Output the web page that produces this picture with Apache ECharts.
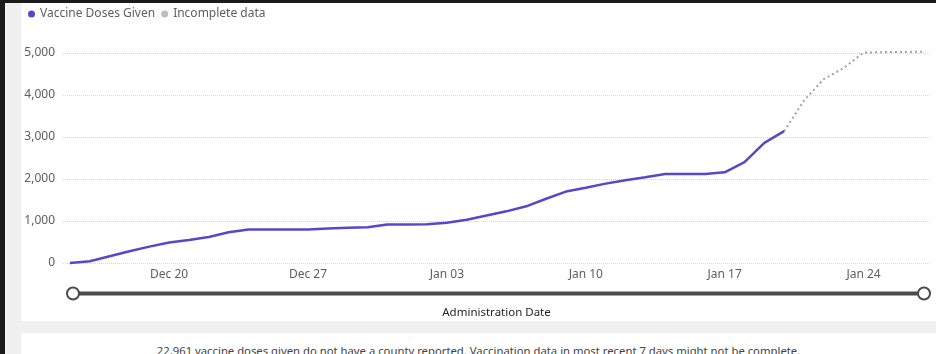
<!DOCTYPE html>
<html>
<head>
<meta charset="utf-8">
<script src="https://cdn.jsdelivr.net/npm/echarts@6/dist/echarts.min.js"></script>
<style>
  html, body { margin: 0; padding: 0; background: #1b1b1b; }
  #frame { position: absolute; left: 0; top: 0; width: 936px; height: 354px; overflow: hidden; background: #1b1b1b; }
  #side { position: absolute; left: 5px; top: 3px; width: 931px; height: 351px; background: #f0f0f0; }
  #card { position: absolute; left: 21px; top: 3px; width: 915px; height: 318px; background: #fff; }
  #note {
    position: absolute; left: 21px; top: 333px; width: 915px; height: 40px; background: #fff;
    font: 11.3px 'Segoe UI', 'Noto Sans', sans-serif; color: #444; text-align: center;
    line-height: 16px; padding-top: 10px; box-sizing: border-box;
  }
  #chart { position: absolute; left: 0; top: 0; width: 936px; height: 354px; }
</style>
</head>
<body>
<div id="frame">
  <div id="side"></div>
  <div id="card"></div>
  <div id="note">22,961 vaccine doses given do not have a county reported. Vaccination data in most recent 7 days might not be complete.</div>
  <div id="chart"></div>
</div>
<script>
// one entry per day, Dec 15 .. Jan 27
const dates = [
  'Dec 15', 'Dec 16', 'Dec 17', 'Dec 18', 'Dec 19', 'Dec 20', 'Dec 21', 'Dec 22', 'Dec 23',
  'Dec 24', 'Dec 25', 'Dec 26', 'Dec 27', 'Dec 28', 'Dec 29', 'Dec 30', 'Dec 31',
  'Jan 01', 'Jan 02', 'Jan 03', 'Jan 04', 'Jan 05', 'Jan 06', 'Jan 07', 'Jan 08', 'Jan 09',
  'Jan 10', 'Jan 11', 'Jan 12', 'Jan 13', 'Jan 14', 'Jan 15', 'Jan 16', 'Jan 17', 'Jan 18',
  'Jan 19', 'Jan 20', 'Jan 21', 'Jan 22', 'Jan 23', 'Jan 24', 'Jan 25', 'Jan 26', 'Jan 27'
];

// Dec 15 .. Jan 20
const dosesGiven = [
  0, 40, 160, 280, 390, 490, 550, 620, 730, 800, 800, 800, 800, 820, 840, 850, 915,
  915, 920, 960, 1030, 1130, 1230, 1350, 1530, 1700, 1790, 1890, 1970, 2040, 2120,
  2120, 2120, 2160, 2400, 2860, 3140
];

// Jan 20 .. Jan 27
const incompleteDates = ['Jan 20', 'Jan 21', 'Jan 22', 'Jan 23', 'Jan 24', 'Jan 25', 'Jan 26', 'Jan 27'];
const incompleteData = [3140, 3870, 4380, 4640, 5010, 5020, 5025, 5030];

const xTickLabels = ['Dec 20', 'Dec 27', 'Jan 03', 'Jan 10', 'Jan 17', 'Jan 24'];
const yTicks = [0, 1000, 2000, 3000, 4000, 5000];

const FONT = "'Segoe UI', 'Noto Sans', sans-serif";

// x is the day index into dates
const tickDays = xTickLabels.map((d) => dates.indexOf(d));
const givenPoints = dosesGiven.map((v, i) => [i, v]);
const incompletePoints = incompleteData.map((v, i) => [dates.indexOf(incompleteDates[i]), v]);

const chart = echarts.init(document.getElementById('chart'), null, { renderer: 'canvas' });

chart.setOption({
  animation: false,
  textStyle: { fontFamily: FONT },
  legend: {
    left: 28,
    top: 8,
    padding: 0,
    icon: 'circle',
    itemWidth: 7,
    itemHeight: 7,
    itemGap: 6,
    textStyle: { color: '#605e5c', fontSize: 12, fontFamily: FONT },
    data: [
      { name: 'Vaccine Doses Given', itemStyle: { color: '#5b45c8' } },
      { name: 'Incomplete data', itemStyle: { color: '#bdbcc6' } }
    ]
  },
  grid: { left: 63, right: 6, top: 53, bottom: 91, containLabel: false },
  xAxis: {
    type: 'value',
    min: -0.35,
    max: dates.length - 1 + 0.35,
    axisLine: { show: false },
    axisTick: { show: false },
    splitLine: { show: false },
    axisLabel: {
      customValues: tickDays,
      formatter: (v) => xTickLabels[tickDays.indexOf(v)] || '',
      color: '#605e5c',
      fontSize: 12,
      margin: 6
    },
    name: 'Administration Date',
    nameLocation: 'middle',
    nameGap: 44,
    nameTextStyle: { color: '#252423', fontSize: 11.5, fontFamily: FONT }
  },
  yAxis: {
    type: 'value',
    min: yTicks[0],
    max: yTicks[yTicks.length - 1],
    interval: 1000,
    axisLine: { show: false },
    axisTick: { show: false },
    axisLabel: {
      color: '#605e5c',
      fontSize: 12,
      margin: 8,
      formatter: (v) => v.toLocaleString('en-US')
    },
    splitLine: { lineStyle: { color: '#d6d6d6', type: 'dotted', width: 1 } }
  },
  dataZoom: [{
    type: 'slider',
    xAxisIndex: 0,
    start: 0,
    end: 100,
    left: 70,
    right: 13,
    top: 291.5,
    height: 4,
    backgroundColor: 'transparent',
    borderColor: 'transparent',
    fillerColor: '#4b4b4b',
    showDataShadow: false,
    showDetail: false,
    brushSelect: false,
    dataBackground: { lineStyle: { opacity: 0 }, areaStyle: { opacity: 0 } },
    handleIcon: 'circle',
    handleSize: 12,
    handleStyle: { color: '#fff', borderColor: '#4b4b4b', borderWidth: 2 },
    moveHandleSize: 0,
    emphasis: {
      handleStyle: { color: '#fff', borderColor: '#4b4b4b', borderWidth: 2 },
      moveHandleStyle: { opacity: 0 }
    }
  }],
  series: [
    {
      name: 'Vaccine Doses Given',
      type: 'line',
      data: givenPoints,
      showSymbol: false,
      clip: false,
      itemStyle: { color: '#5b45c8' },
      lineStyle: { color: '#5b45c8', width: 2.5 },
      z: 3
    },
    {
      name: 'Incomplete data',
      type: 'line',
      data: incompletePoints,
      showSymbol: false,
      clip: false,
      itemStyle: { color: '#bdbcc6' },
      lineStyle: { color: '#a3a3a3', width: 2, type: [2, 3] },
      z: 2
    }
  ]
});
</script>
</body>
</html>
